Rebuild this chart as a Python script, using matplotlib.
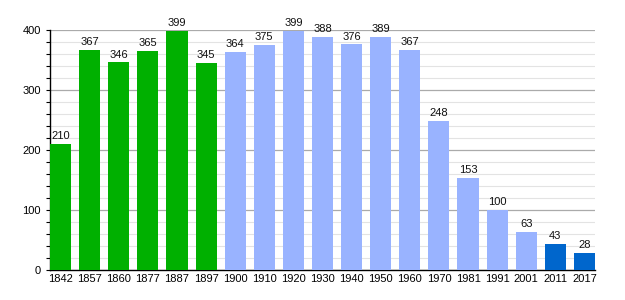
import matplotlib
matplotlib.use("Agg")
import matplotlib.pyplot as plt
import numpy as np

annees = ["1842", "1857", "1860", "1877", "1887", "1897",
          "1900", "1910", "1920", "1930", "1940", "1950", "1960",
          "1970", "1981", "1991", "2001", "2011", "2017"]
population = [210, 367, 346, 365, 399, 345,
              364, 375, 399, 388, 376, 389, 367,
              248, 153, 100, 63, 43, 28]
couleurs = ["#00b000"] * 6 + ["#99b3ff"] * 11 + ["#0066cc"] * 2

plt.rcParams["font.family"] = ["Liberation Sans", "DejaVu Sans"]

fig = plt.figure(figsize=(6.25, 3.0), dpi=100)
ax = fig.add_axes([0.08, 0.10, 0.872, 0.80])

x = np.arange(len(annees))
largeur = 0.724
barres = ax.bar(x, population, width=largeur, color=couleurs, zorder=3)

for barre in barres:
    h = barre.get_height()
    ax.annotate(f"{h:.0f}", (barre.get_x() + barre.get_width() / 2, h),
                xytext=(0, 2), textcoords="offset points",
                ha="center", va="bottom", fontsize=8, color="#111111")

ax.set_xlim(-largeur / 2, len(annees) - 1 + largeur / 2)
ax.set_ylim(0, 400)
ax.set_xticks(x)
ax.set_xticklabels(annees, fontsize=8)
ax.set_yticks([0, 100, 200, 300, 400])
ax.set_yticks(np.arange(0, 401, 20), minor=True)
ax.tick_params(axis="y", labelsize=8, length=3, width=0.8)
ax.tick_params(axis="y", which="minor", length=3, width=0.8)
ax.tick_params(axis="x", length=0, pad=3)

ax.grid(axis="y", which="major", color="#aaaaaa", linewidth=0.9, zorder=0)
ax.grid(axis="y", which="minor", color="#e3e3e3", linewidth=0.8, zorder=0)
ax.set_axisbelow(True)

for cote in ["top", "right"]:
    ax.spines[cote].set_visible(False)
ax.spines["left"].set_linewidth(1)
ax.spines["bottom"].set_linewidth(1)

fig.savefig("out.png", dpi=100)
